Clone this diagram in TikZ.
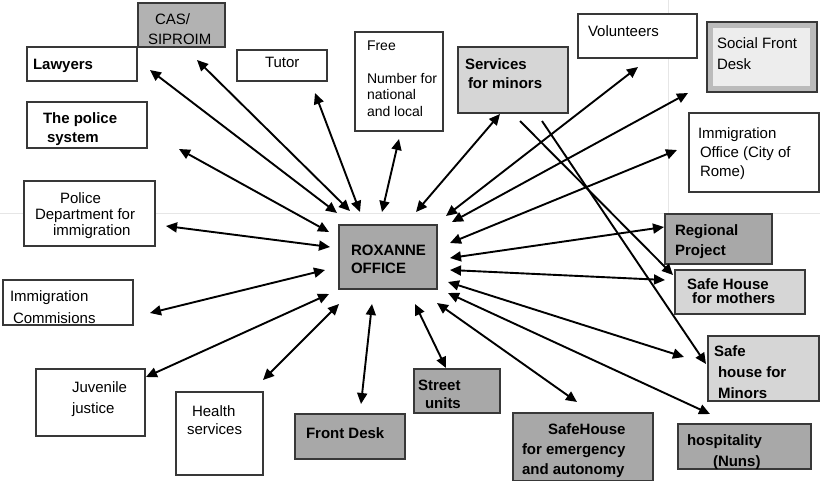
\documentclass[tikz,border=0pt]{standalone}
\usepackage{fontspec}
\setmainfont{Liberation Sans}
\usetikzlibrary{arrows.meta}
\definecolor{bd}{HTML}{383838}
\definecolor{gd}{HTML}{A8A8A8}
\definecolor{gc}{HTML}{B2B2B2}
\definecolor{gl}{HTML}{D6D6D6}
\definecolor{gs}{HTML}{BBBBBB}
\definecolor{gi}{HTML}{EDEDED}
\definecolor{guide}{HTML}{E6E6E6}
\tikzset{
 box/.style={draw=bd, line width=1.2pt, inner sep=0pt, outer sep=0pt, anchor=north west},
 txt/.style={inner sep=0pt, outer sep=0pt, anchor=north west, align=left, text=black, yshift=-1.5pt},
 dbl/.style={{Triangle[length=11pt,width=10pt]}-{Triangle[length=11pt,width=10pt]}, line width=1.9pt},
 sgl/.style={-{Triangle[length=11pt,width=10pt]}, line width=1.9pt},
}
\newcommand\fs[2]{\fontsize{#1}{#2}\selectfont}
\begin{document}
\begin{tikzpicture}[x=1pt,y=-1pt]
\useasboundingbox (0,0) rectangle (820,480);
% faint guide lines
\draw[guide, line width=0.8pt] (0,213) -- (820,213);
\draw[guide, line width=0.8pt] (668,0) -- (668,213);

% boxes
\node[box, fill=gc, minimum width=87pt, minimum height=44pt] (cas) at (138,3) {};
\node[box, fill=white, minimum width=110pt, minimum height=34pt] (law) at (27,47) {};
\node[box, fill=white, minimum width=90pt, minimum height=31pt] (tutor) at (237,50) {};
\node[box, fill=white, minimum width=88pt, minimum height=99pt] (free) at (355,32) {};
\node[box, fill=gl, minimum width=110pt, minimum height=66pt] (serv) at (458,47) {};
\node[box, fill=white, minimum width=119pt, minimum height=44pt] (vol) at (578,14) {};
\node[box, fill=gs, minimum width=110pt, minimum height=70pt] (sfd) at (707,22) {};
\node[inner sep=0pt, outer sep=0pt, anchor=north west, fill=gi, minimum width=97pt, minimum height=58pt] (sfdin) at (713,28) {};
\node[box, fill=white, minimum width=130pt, minimum height=79pt] (imo) at (689,113) {};
\node[box, fill=white, minimum width=120pt, minimum height=46pt] (pol) at (27,102) {};
\node[box, fill=white, minimum width=131pt, minimum height=65pt] (pdi) at (24,181) {};
\node[box, fill=gd, minimum width=98pt, minimum height=64pt] (rox) at (339,225) {};
\node[box, fill=gd, minimum width=107pt, minimum height=50pt] (reg) at (665,214) {};
\node[box, fill=gl, minimum width=130pt, minimum height=44pt] (shm) at (675,270) {};
\node[box, fill=white, minimum width=130pt, minimum height=45pt] (imc) at (3,280) {};
\node[box, fill=white, minimum width=109pt, minimum height=67pt] (juv) at (36,369) {};
\node[box, fill=white, minimum width=87pt, minimum height=83pt] (hea) at (176,392) {};
\node[box, fill=gd, minimum width=110pt, minimum height=45pt] (fd) at (295,414) {};
\node[box, fill=gd, minimum width=86pt, minimum height=44pt] (str) at (414,369) {};
\node[box, fill=gd, minimum width=140pt, minimum height=68pt] (she) at (513,413) {};
\node[box, fill=gl, minimum width=111pt, minimum height=65pt] (shmin) at (708,336) {};
\node[box, fill=gd, minimum width=133pt, minimum height=45pt] (hos) at (678,424) {};

% texts
\node[txt, font=\fs{15}{20}] (cas-t) at (148,12) {\hspace*{7pt}CAS/\\SIPROIM};
\node[txt, font=\bfseries\fs{15}{17}] (law-t) at (33,58) {Lawyers};
\node[txt, font=\fs{15}{17}] (tutor-t) at (265,56) {Tutor};
\node[txt, font=\fs{14}{16.5}] (free-t) at (367,39) {Free\\[0pt]\mbox{}\\Number for\\national\\and local};
\node[txt, font=\bfseries\fs{15}{19}] (serv-t) at (465,57) {Services\\\hspace*{3pt}for minors};
\node[txt, font=\fs{15}{17}] (vol-t) at (588,24) {Volunteers};
\node[txt, font=\fs{15}{21}] (sfd-t) at (717,36) {Social Front\\Desk};
\node[txt, font=\fs{15}{19}] (imo-t) at (698,126) {Immigration\\\hspace*{2pt}Office (City of\\\hspace*{2pt}Rome)};
\node[txt, font=\bfseries\fs{15}{19}] (pol-t) at (43,111) {The police\\\hspace*{4pt}system};
\node[txt, font=\fs{15}{16}] (pdi-t) at (35,191) {\hspace*{25pt}Police\\Department for\\\hspace*{18pt}immigration};
\node[txt, font=\bfseries\fs{15}{18}] (rox-t) at (351,244) {ROXANNE\\OFFICE};
\node[txt, font=\bfseries\fs{15}{20}] (reg-t) at (675,223) {Regional\\Project};
\node[txt, font=\bfseries\fs{15}{14}] (shm-t) at (687,277) {Safe House\\\hspace*{5pt}for mothers};
\node[txt, font=\fs{15}{22}] (imc-t) at (10,289) {Immigration\\\hspace*{3pt}Commisions};
\node[txt, font=\fs{15}{21}] (juv-t) at (72,380) {Juvenile\\justice};
\node[txt, font=\fs{15}{18}] (hea-t) at (187,404) {\hspace*{5pt}Health\\services};
\node[txt, font=\bfseries\fs{15}{17}] (fd-t) at (306,426) {Front Desk};
\node[txt, font=\bfseries\fs{15}{18}] (str-t) at (418,379) {Street\\\hspace*{7pt}units};
\node[txt, font=\bfseries\fs{15}{20}] (she-t) at (522,422) {\hspace*{26pt}SafeHouse\\for emergency\\and autonomy};
\node[txt, font=\bfseries\fs{15}{21}] (shmin-t) at (714,344) {Safe\\\hspace*{4pt}house for\\\hspace*{4pt}Minors};
\node[txt, font=\bfseries\fs{15}{21}] (hos-t) at (687,433) {hospitality\\\hspace*{26pt}(Nuns)};

% connector end points
\coordinate (law-e) at (150,70);   \coordinate (rox-law) at (337,213);
\coordinate (cas-e) at (197,60);   \coordinate (rox-cas) at (350,211);
\coordinate (tutor-e) at (315,93); \coordinate (rox-tutor) at (360,212);
\coordinate (free-e) at (399,139); \coordinate (rox-free) at (382,212);
\coordinate (serv-e) at (500,114); \coordinate (rox-serv) at (416,212);
\coordinate (pol-e) at (179,149);  \coordinate (rox-pol) at (329,232);
\coordinate (pdi-e) at (166,226);  \coordinate (rox-pdi) at (330,247);
\coordinate (imc-e) at (150,313);  \coordinate (rox-imc) at (325,270);
\coordinate (juv-e) at (146,377);  \coordinate (rox-juv) at (329,294);
\coordinate (hea-e) at (263,380);  \coordinate (rox-hea) at (339,304);
\coordinate (fd-e) at (361,404);   \coordinate (rox-fd) at (372,304);
\coordinate (str-e) at (446,368);  \coordinate (rox-str) at (415,304);
\coordinate (she-e) at (577,402);  \coordinate (rox-she) at (437,303);
\coordinate (hos-e) at (710,414);  \coordinate (rox-hos) at (448,293);
\coordinate (shmin-e) at (684,357);\coordinate (rox-shmin) at (448,282);
\coordinate (shm-e) at (665,280);  \coordinate (rox-shm) at (450,270);
\coordinate (reg-e) at (664,227);  \coordinate (rox-reg) at (450,258);
\coordinate (imo-e) at (677,150);  \coordinate (rox-imo) at (450,243);
\coordinate (sfd-e) at (688,93);   \coordinate (rox-sfd) at (452,222);
\coordinate (vol-e) at (638,67);   \coordinate (rox-vol) at (446,216);
\coordinate (serv-a) at (520,121); \coordinate (shm-a) at (673,275);
\coordinate (serv-b) at (542,121); \coordinate (shmin-a) at (706,364);

% connectors
\foreach \n in {law,cas,tutor,free,serv,pol,pdi,imc,juv,hea,fd,str,she,hos,shmin,shm,reg,imo,sfd,vol}
  \draw[dbl] (rox-\n) -- (\n-e);
\draw[sgl] (serv-a) -- (shm-a);
\draw[sgl] (serv-b) -- (shmin-a);
\end{tikzpicture}
\end{document}
